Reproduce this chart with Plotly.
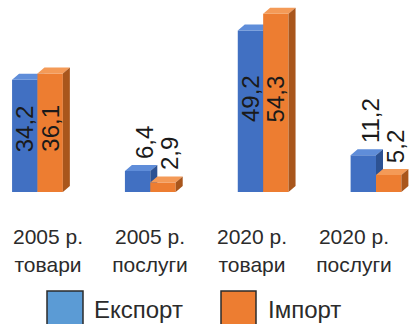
import plotly.graph_objects as go

# Trade in goods and services, bn USD
categories = ["2005 р.<br>товари", "2005 р.<br>послуги", "2020 р.<br>товари", "2020 р.<br>послуги"]
export_vals = [34.2, 6.4, 49.2, 11.2]
import_vals = [36.1, 2.9, 54.3, 5.2]
export_labels = ["34,2", "6,4", "49,2", "11,2"]
import_labels = ["36,1", "2,9", "54,3", "5,2"]
series_names = ["Експорт", "Імпорт"]

W, H = 412, 324
PLOT_H = 192                      # plot area height in px (baseline at y=192)
X_RANGE = [-0.332, 3.319]
Y_RANGE = [0, 58.5]
LBL_RANGE = [-0.4706, 3.569]      # separate axis that carries the category labels
BAR_W = 0.225

px_per_x = W / (X_RANGE[1] - X_RANGE[0])
px_per_y = PLOT_H / (Y_RANGE[1] - Y_RANGE[0])
DX = 7 / px_per_x                 # 3D depth, right
DY = 6 / px_per_y                 # 3D depth, up

styles = {
    "export": dict(front="#4170C2", top="#5F8DD9", side="#2D5293", legend="#5B9BD5"),
    "import": dict(front="#ED7D31", top="#F49A57", side="#A9561C", legend="#ED7D31"),
}

pos = list(range(len(categories)))
fig = go.Figure()


def add_series(vals, offset, st, name, z):
    fig.add_trace(go.Bar(
        x=pos, y=vals, offset=offset, width=BAR_W, name=name,
        marker=dict(color=st["front"], line=dict(width=0)),
        showlegend=False, zorder=z, hoverinfo="skip",
    ))
    tx, ty, sx, sy = [], [], [], []
    for p, v in zip(pos, vals):
        x0 = p + offset
        x1 = x0 + BAR_W
        tx += [x0, x0 + DX, x1 + DX, x1, x0, None]
        ty += [v, v + DY, v + DY, v, v, None]
        sx += [x1, x1 + DX, x1 + DX, x1, x1, None]
        sy += [v, v + DY, DY, 0, v, None]
    for xs, ys, col in ((tx, ty, st["top"]), (sx, sy, st["side"])):
        fig.add_trace(go.Scatter(
            x=xs, y=ys, mode="lines", fill="toself", fillcolor=col,
            line=dict(width=0, color=col), showlegend=False,
            hoverinfo="skip", zorder=z + 1,
        ))


add_series(export_vals, -BAR_W, styles["export"], series_names[0], 0)
add_series(import_vals, 0.0, styles["import"], series_names[1], 2)

# value labels: inside tall bars, above short ones
num_font = dict(family="Liberation Sans, Arial, sans-serif", size=24, color="#1a1a1a")
for i, p in enumerate(pos):
    pair_mid = 0.55 * (export_vals[i] + import_vals[i]) / 2
    for vals, labels, off in ((export_vals, export_labels, -BAR_W), (import_vals, import_labels, 0.0)):
        v = vals[i]
        xc = p + off + BAR_W / 2
        if v > 20:
            fig.add_annotation(x=xc, y=pair_mid, text=labels[i], textangle=-90,
                               showarrow=False, font=num_font,
                               xanchor="center", yanchor="middle")
        else:
            fig.add_annotation(x=xc, y=v, text=labels[i], textangle=-90,
                               showarrow=False, font=num_font,
                               xanchor="center", yanchor="bottom",
                               xshift=7, yshift=10)

# category labels on their own axis
fig.add_trace(go.Scatter(x=pos, y=[0] * len(pos), xaxis="x2", mode="markers",
                         marker=dict(opacity=0), showlegend=False, hoverinfo="skip"))


# legend swatches
def px_x(v):
    return v / W


def px_y(v):
    return (PLOT_H - v) / PLOT_H


legend_items = [(47, 83, 92, series_names[0], styles["export"]["legend"]),
                (221, 256, 266, series_names[1], styles["import"]["legend"])]
for x0, x1, tx, name, col in legend_items:
    fig.add_shape(type="rect", xref="paper", yref="paper",
                  x0=px_x(x0), x1=px_x(x1), y0=px_y(291), y1=px_y(340),
                  fillcolor=col, line=dict(color="#2b2b2b", width=1.5))
    fig.add_annotation(xref="paper", yref="paper", x=px_x(tx), y=px_y(309),
                       text=name, showarrow=False, xanchor="left", yanchor="middle",
                       font=dict(family="Liberation Sans, Arial, sans-serif", size=24,
                                 color="#2b2b2b"))

fig.update_layout(
    width=W, height=H,
    margin=dict(l=0, r=0, t=0, b=H - PLOT_H, pad=0),
    paper_bgcolor="white", plot_bgcolor="white",
    showlegend=False, barmode="overlay",
    xaxis=dict(range=X_RANGE, showticklabels=False, showgrid=False,
               zeroline=False, showline=False, fixedrange=True),
    xaxis2=dict(range=LBL_RANGE, overlaying="x", anchor="y", side="bottom",
                tickmode="array", tickvals=pos, ticktext=categories,
                showgrid=False, zeroline=False, showline=False,
                ticks="outside", ticklen=26, tickcolor="rgba(0,0,0,0)",
                automargin=False,
                tickfont=dict(family="Liberation Sans Narrow, Arial Narrow, Liberation Sans, sans-serif",
                              size=21, color="#2b2b2b")),
    yaxis=dict(range=Y_RANGE, visible=False, fixedrange=True),
)

fig.write_html("out.html")
